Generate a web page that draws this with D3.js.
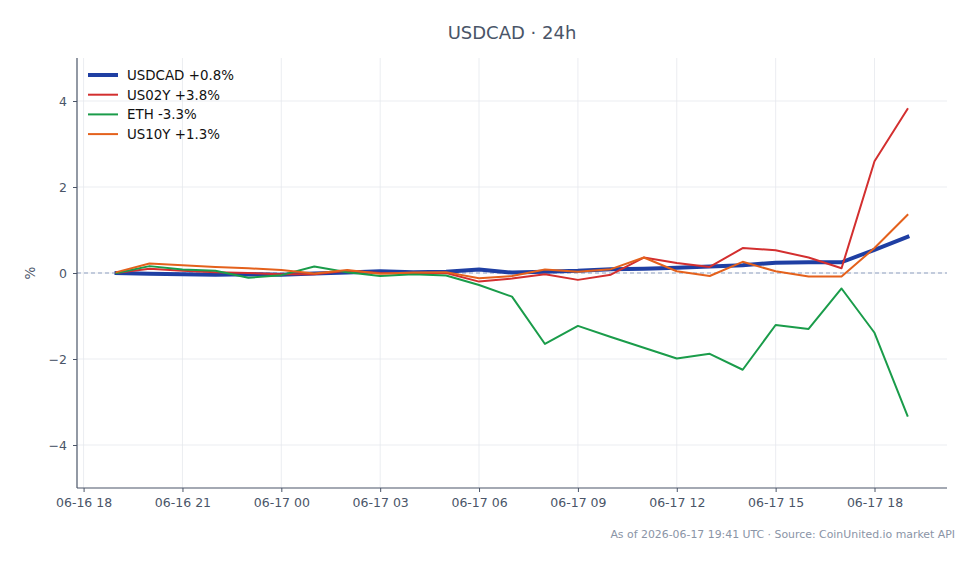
<!DOCTYPE html>
<html><head><meta charset="utf-8">
<script src="https://cdn.jsdelivr.net/npm/d3@7"></script>
<style>body{margin:0;background:#fff}svg{display:block;font-family:"DejaVu Sans",sans-serif}</style>
</head><body><svg id="c" width="979" height="564"></svg>
<script>
const startTime = "2026-06-16T19:00:00Z";
const hoursCount = 25;
const usdcad = [0.0,-0.02,-0.03,-0.04,-0.03,-0.04,-0.01,0.01,0.04,0.02,0.03,0.08,0.01,0.03,0.05,0.09,0.10,0.12,0.15,0.18,0.24,0.25,0.25,0.54,0.84];
const us02y = [0.0,0.10,0.05,0.02,0.0,-0.03,-0.03,0.05,0.0,-0.02,0.0,-0.20,-0.13,-0.03,-0.16,-0.04,0.36,0.23,0.14,0.58,0.53,0.36,0.11,2.60,3.81];
const eth = [0.0,0.16,0.08,0.05,-0.11,-0.05,0.15,0.02,-0.07,-0.03,-0.06,-0.28,-0.55,-1.65,-1.23,-1.49,-1.74,-1.99,-1.88,-2.25,-1.21,-1.30,-0.36,-1.39,-3.32];
const us10y = [0.02,0.22,0.18,0.14,0.11,0.07,-0.01,0.07,-0.02,0.01,0.02,-0.12,-0.07,0.08,0.03,0.09,0.36,0.04,-0.07,0.26,0.04,-0.08,-0.08,0.58,1.35];
const seriesNames = ["USDCAD +0.8%","US02Y +3.8%","ETH -3.3%","US10Y +1.3%"];
const seriesColors = ["#1f3fa3","#d32f2f","#1a9c4a","#e4611c"];
const seriesWidths = [4,2,2,2];
const yTicks = [-4,-2,0,2,4];
const xTickLabels = ["06-16 18","06-16 21","06-17 00","06-17 03","06-17 06","06-17 09","06-17 12","06-17 15","06-17 18"];
const titleText = "USDCAD · 24h";
const footerText = "As of 2026-06-17 19:41 UTC · Source: CoinUnited.io market API";

const t0 = new Date(startTime);
const times = d3.range(hoursCount).map(i => new Date(+t0 + i*3600e3));
const allSeries = [usdcad, us02y, eth, us10y];

const svg = d3.select("#c");
const L = 77, R = 947, T = 58, B = 488;
const span = times[times.length-1] - times[0];
const x = d3.scaleUtc().domain([new Date(+times[0] - span*0.05), new Date(+times[times.length-1] + span*0.05)]).range([L, R]);
const y = d3.scaleLinear().domain([-5,5]).range([B, T]);
const textCol = "#4a5568";

const xTickDates = xTickLabels.map((s,i) => new Date(Date.UTC(2026,5,16,18) + i*3*3600e3));

// grid
const g = svg.append("g");
g.selectAll(".gx").data(xTickDates).join("line")
  .attr("x1", d=>x(d)).attr("x2", d=>x(d)).attr("y1", T).attr("y2", B)
  .attr("stroke", "#e6e9ee").attr("stroke-width", 0.8);
g.selectAll(".gy").data(yTicks).join("line")
  .attr("x1", L).attr("x2", R).attr("y1", d=>y(d)).attr("y2", d=>y(d))
  .attr("stroke", "#e6e9ee").attr("stroke-width", 0.8);

// zero line
svg.append("line").attr("x1", L).attr("x2", R).attr("y1", y(0)).attr("y2", y(0))
  .attr("stroke", "#8fa0c0").attr("stroke-width", 1).attr("stroke-dasharray", "4,3");

// lines
const line = d3.line().x((d,i)=>x(times[i])).y(d=>y(d));
allSeries.forEach((s, k) => {
  svg.append("path").datum(s).attr("d", line).attr("fill","none")
    .attr("stroke", seriesColors[k]).attr("stroke-width", seriesWidths[k])
    .attr("stroke-linejoin","round").attr("stroke-linecap","square");
});

// axes
const xAxis = d3.axisBottom(x).tickValues(xTickDates).tickFormat((d,i)=>xTickLabels[i]).tickSize(4).tickPadding(6);
const yAxis = d3.axisLeft(y).tickValues(yTicks).tickFormat(d => d < 0 ? "\u2212" + Math.abs(d) : String(d)).tickSize(4).tickPadding(6);
const ax = svg.append("g").attr("transform", `translate(0,${B})`).call(xAxis);
const ay = svg.append("g").attr("transform", `translate(${L},0)`).call(yAxis);
[ax, ay].forEach(a => {
  a.select(".domain").remove();
  a.selectAll(".tick line").attr("stroke", textCol).attr("stroke-width", 1);
  a.selectAll(".tick text").attr("fill", textCol).attr("font-size", 12.5).attr("font-family", "DejaVu Sans");
});
svg.append("line").attr("x1", L).attr("x2", L).attr("y1", T).attr("y2", B).attr("stroke", textCol).attr("stroke-width", 1.2);
svg.append("line").attr("x1", L).attr("x2", R).attr("y1", B).attr("y2", B).attr("stroke", textCol).attr("stroke-width", 1.2);

// labels
svg.append("text").attr("x", 512).attr("y", 38.5).attr("text-anchor","middle")
  .attr("fill", textCol).attr("font-size", 18).text(titleText);
svg.append("text").attr("transform", `translate(35,${y(0)}) rotate(-90)`).attr("text-anchor","middle")
  .attr("fill", textCol).attr("font-size", 13.5).text("%");
svg.append("text").attr("x", 955).attr("y", 538).attr("text-anchor","end")
  .attr("fill", "#8a94a6").attr("font-size", 10.9).text(footerText);

// legend
const lg = svg.append("g");
seriesNames.forEach((n, k) => {
  const yy = 75 + k*19.7;
  lg.append("line").attr("x1", 88).attr("x2", 118).attr("y1", yy).attr("y2", yy)
    .attr("stroke", seriesColors[k]).attr("stroke-width", seriesWidths[k]);
  lg.append("text").attr("x", 127).attr("y", yy + 4.8).attr("font-size", 13.4).attr("fill", "#111").text(n);
});
</script></body></html>
